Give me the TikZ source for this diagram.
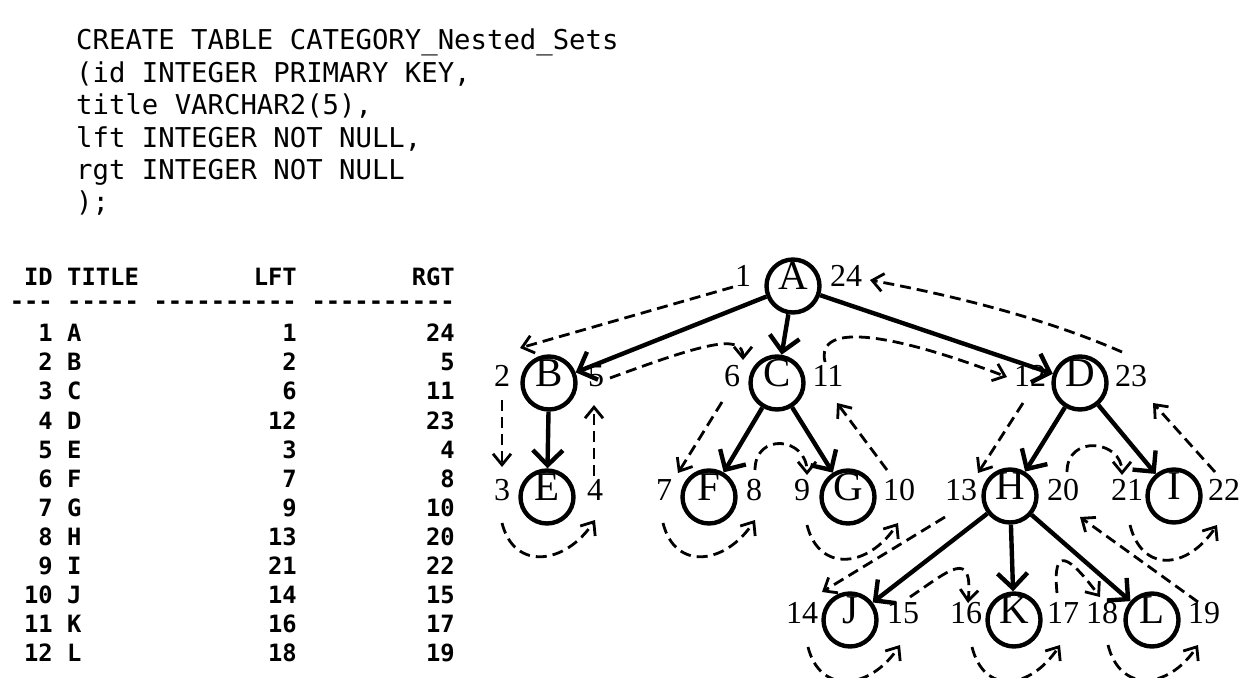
\documentclass[tikz,border=0pt]{standalone}
\usepackage{fontspec}
\setmainfont{Liberation Serif}
\setmonofont{DejaVu Sans Mono}
\usetikzlibrary{arrows.meta}
\tikzset{
  vert/.style={circle,draw=black,line width=4.4pt,minimum size=53pt,inner sep=0pt,
    text height=0.66em,text depth=0pt,font=\fontsize{41}{41}\selectfont},
  num/.style={inner sep=0pt,text height=0.66em,text depth=0pt,font=\fontsize{32}{32}\selectfont},
  tree/.style={draw=black,line width=4.4pt,-{Straight Barb[length=15pt,width=30pt]}},
  walk/.style={draw=black,line width=2.8pt,dash pattern=on 11pt off 6pt,
    -{Straight Barb[length=11pt,width=18pt]}},
}
\tikzset{sql/.style={anchor=base west,inner sep=0pt,font=\ttfamily\fontsize{27.3}{27.3}\selectfont},
  cell/.style={inner sep=0pt,font=\ttfamily\bfseries\fontsize{23.8}{23.8}\selectfont}}

\begin{document}
\begin{tikzpicture}[x=1pt,y=-1pt]
\useasboundingbox (0,0) rectangle (1244,677);
% create statement
\node[sql] (s1) at (76,50) {CREATE TABLE CATEGORY\_Nested\_Sets};
\node[sql] (s2) at (76,82) {(id INTEGER PRIMARY KEY,};
\node[sql] (s3) at (76,114) {title VARCHAR2(5),};
\node[sql] (s4) at (76,147) {lft INTEGER NOT NULL,};
\node[sql] (s5) at (76,179) {rgt INTEGER NOT NULL};
\node[sql] (s6) at (76,211) {);};
% query result
\node[cell,anchor=base east] (hid) at (53,285) {ID};
\node[cell,anchor=base west] (hti) at (67,285) {TITLE};
\node[cell,anchor=base east] (hlf) at (297,285) {LFT};
\node[cell,anchor=base east] (hrg) at (455,285) {RGT};
\node[cell,anchor=base east] (did) at (53,309) {---};
\node[cell,anchor=base west] (dti) at (67,309) {-----};
\node[cell,anchor=base east] (dlf) at (297,309) {----------};
\node[cell,anchor=base east] (drg) at (455,309) {----------};
\foreach \id/\ti/\lf/\rg [count=\row] in {1/A/1/24,2/B/2/5,3/C/6/11,4/D/12/23,
    5/E/3/4,6/F/7/8,7/G/9/10,8/H/13/20,9/I/21/22,10/J/14/15,11/K/16/17,12/L/18/19}{
  \node[cell,anchor=base east] (id\row) at (53,{341.7+29.1*(\row-1)}) {\id};
  \node[cell,anchor=base west] (ti\row) at (67,{341.7+29.1*(\row-1)}) {\ti};
  \node[cell,anchor=base east] (lf\row) at (297,{341.7+29.1*(\row-1)}) {\lf};
  \node[cell,anchor=base east] (rg\row) at (455,{341.7+29.1*(\row-1)}) {\rg};
}
% tree
\node[vert] (A) at (793,286) {A};
\node[vert] (B) at (549,383) {B};
\node[vert] (C) at (777,383) {C};
\node[vert] (D) at (1080,383) {D};
\node[vert] (E) at (547,497) {E};
\node[vert] (F) at (709,497) {F};
\node[vert] (G) at (848,497) {G};
\node[vert] (H) at (1010,496) {H};
\node[vert] (I) at (1174,496) {I};
\node[vert] (J) at (850,620) {J};
\node[vert] (K) at (1014,620) {K};
\node[vert] (L) at (1152,620) {L};
\draw[tree] (A) -- (B);
\draw[tree] (A) -- (C);
\draw[tree] (A) -- (D);
\draw[tree] (B) -- (E);
\draw[tree] (C) -- (F);
\draw[tree] (C) -- (G);
\draw[tree] (D) -- (H);
\draw[tree] (D) -- (I);
\draw[tree] (H) -- (J);
\draw[tree] (H) -- (K);
\draw[tree] (H) -- (L);
% left and right numbers
\node[num] (n1) at (743,283) {1};
\node[num] (n24) at (846,283) {24};
\node[num] (n2) at (502,383) {2};
\node[num] (n5) at (596,383) {5};
\node[num] (n6) at (732,383) {6};
\node[num] (n11) at (828,383) {11};
\node[num] (n12) at (1030,383) {12};
\node[num] (n23) at (1131,383) {23};
\node[num] (n3) at (502,497) {3};
\node[num] (n4) at (595,497) {4};
\node[num] (n7) at (664,497) {7};
\node[num] (n8) at (754,497) {8};
\node[num] (n9) at (802,497) {9};
\node[num] (n10) at (899,497) {10};
\node[num] (n13) at (961,497) {13};
\node[num] (n20) at (1063,497) {20};
\node[num] (n21) at (1127,497) {21};
\node[num] (n22) at (1224,497) {22};
\node[num] (n14) at (802,620) {14};
\node[num] (n15) at (903,620) {15};
\node[num] (n16) at (966,620) {16};
\node[num] (n17) at (1063,620) {17};
\node[num] (n18) at (1102,620) {18};
\node[num] (n19) at (1204,620) {19};
% the walk round the tree
\draw[walk] ([shift={(-10,4)}]n1.center) -- ([shift={(18,-35)}]n2.center);
\draw[walk] ([shift={(0,17)}]n2.center) -- ([shift={(0,-30)}]n3.center);
\draw[walk] ([shift={(0,26)}]n3.center) .. controls +(12,48) and +(-30,45) .. ([shift={(0,23)}]n4.center);
\draw[walk] ([shift={(-1,-21)}]n4.center) -- ([shift={(-2,22)}]n5.center);
\draw[walk] ([shift={(14,-5)}]n5.center) .. controls +(90,-33) and +(0,-28) .. ([shift={(11,-23)}]n6.center);
\draw[walk] ([shift={(-10,19)}]n6.center) -- ([shift={(14,-24)}]n7.center);
\draw[walk] ([shift={(-1,26)}]n7.center) .. controls +(12,48) and +(-30,45) .. ([shift={(1,23)}]n8.center);
\draw[walk] ([shift={(1,-27)}]n8.center) .. controls +(0,-38) and +(0,-38) .. ([shift={(5,-22)}]n9.center);
\draw[walk] ([shift={(5,28)}]n9.center) .. controls +(12,48) and +(-30,45) .. ([shift={(-1,26)}]n10.center);
\draw[walk] ([shift={(-12,-27)}]n10.center) -- ([shift={(9,20)}]n11.center);
\draw[walk] ([shift={(-3,-21)}]n11.center) .. controls +(-10,-42) and +(-110,-42) .. ([shift={(-23,-6)}]n12.center);
\draw[walk] ([shift={(-7,20)}]n12.center) -- ([shift={(17,-24)}]n13.center);
\draw[walk] ([shift={(-16,20)}]n13.center) -- ([shift={(20,-28)}]n14.center);
\draw[walk] ([shift={(6,27)}]n14.center) .. controls +(12,48) and +(-30,45) .. ([shift={(-3,25)}]n15.center);
\draw[walk] ([shift={(7,-23)}]n15.center) .. controls +(40,-27) and +(5,-55) .. ([shift={(2,-17)}]n16.center);
\draw[walk] ([shift={(6,27)}]n16.center) .. controls +(12,48) and +(-30,45) .. ([shift={(-3,25)}]n17.center);
\draw[walk] ([shift={(-6,-27)}]n17.center) .. controls +(-5,-50) and +(-30,-40) .. ([shift={(-2,-23)}]n18.center);
\draw[walk] ([shift={(6,25)}]n18.center) .. controls +(12,48) and +(-30,45) .. ([shift={(-6,25)}]n19.center);
\draw[walk] ([shift={(-6,-18)}]n19.center) -- ([shift={(17,20)}]n20.center);
\draw[walk] ([shift={(4,-25)}]n20.center) .. controls +(0,-38) and +(0,-35) .. ([shift={(-5,-22)}]n21.center);
\draw[walk] ([shift={(3,28)}]n21.center) .. controls +(12,48) and +(-30,45) .. ([shift={(-7,28)}]n22.center);
\draw[walk] ([shift={(-9,-25)}]n22.center) -- ([shift={(22,20)}]n23.center);
\draw[walk] ([shift={(-9,-31)}]n23.center) .. controls +(-80,-35) and +(80,15) .. ([shift={(24,-3)}]n24.center);
\end{tikzpicture}
\end{document}
